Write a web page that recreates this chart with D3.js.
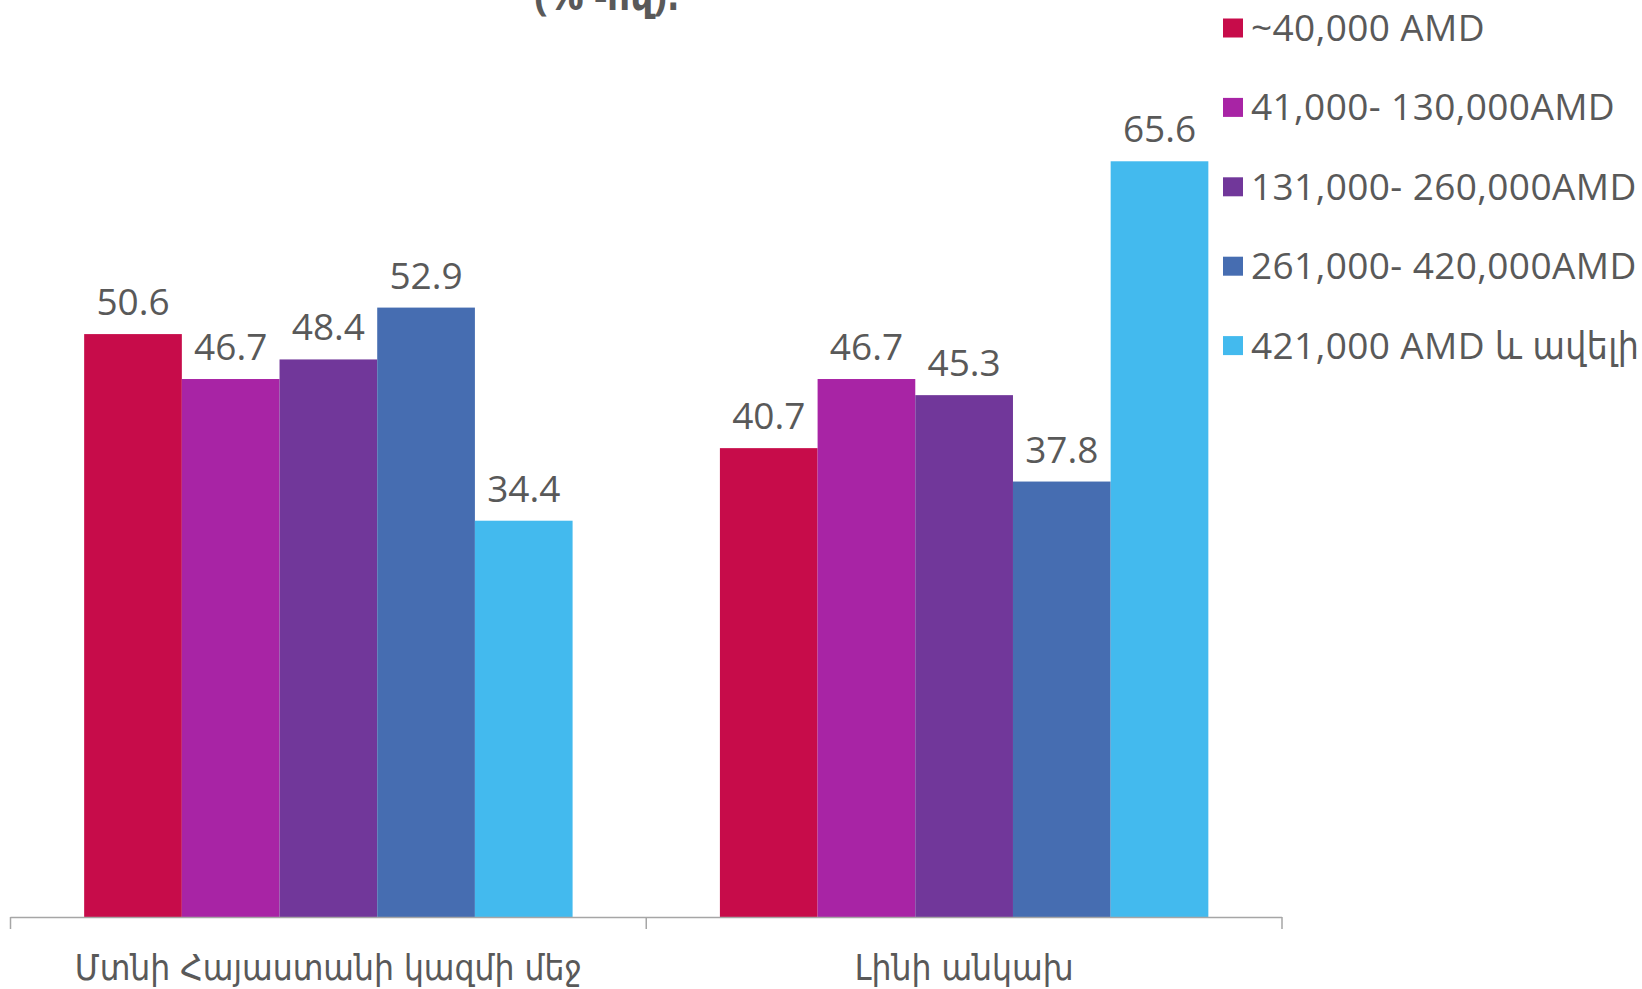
<!DOCTYPE html>
<html><head><meta charset="utf-8">
<script src="https://cdn.jsdelivr.net/npm/d3@7"></script>
<style>
html,body{margin:0;padding:0;background:#fff;}
svg{display:block;}
</style></head>
<body>
<svg id="chart" width="1642" height="989"></svg>
<script>
const categories = ["Մտնի Հայաստանի կազմի մեջ", "Լինի անկախ"];
const seriesNames = ["~40,000 AMD", "41,000- 130,000AMD", "131,000- 260,000AMD", "261,000- 420,000AMD", "421,000 AMD և ավելի"];
const seriesColors = ["#C70C4A", "#A824A5", "#71379A", "#466DB1", "#43BAEE"];
const values0 = [50.6, 46.7, 48.4, 52.9, 34.4];
const values1 = [40.7, 46.7, 45.3, 37.8, 65.6];
const seriesValues = [values0, values1];
const titleText = "(% -ով)։";

const svg = d3.select("#chart");
const textColor = "#595959";

const x0 = d3.scaleBand().domain(categories).range([10.5, 1282]).paddingInner(0).paddingOuter(0);
const x1 = d3.scaleBand().domain(seriesNames).range([0, x0.bandwidth()]).paddingInner(0).paddingOuter(0.754);
const y = d3.scaleLinear().domain([0, 70]).range([917, 110.6]);

// title (top cut off)
svg.append("text").attr("x", 607).attr("y", 10).attr("text-anchor", "middle")
  .attr("font-family", "Open Sans, DejaVu Sans Condensed, sans-serif").attr("font-weight", "bold")
  .attr("font-size", 40).attr("fill", textColor).text(titleText);

// bars
const groups = svg.append("g").selectAll("g").data(categories).join("g")
  .attr("transform", d => `translate(${x0(d)},0)`);
groups.each(function(cat, ci) {
  const g = d3.select(this);
  const vals = seriesValues[ci].map((v, si) => ({name: seriesNames[si], v, color: seriesColors[si]}));
  g.selectAll("rect").data(vals).join("rect")
    .attr("x", d => x1(d.name)).attr("width", x1.bandwidth())
    .attr("y", d => y(d.v)).attr("height", d => y(0) - y(d.v))
    .attr("fill", d => d.color);
  g.selectAll("text.val").data(vals).join("text").attr("class", "val")
    .attr("x", d => x1(d.name) + x1.bandwidth() / 2)
    .attr("y", d => y(d.v) - 19)
    .attr("text-anchor", "middle")
    .attr("font-family", "Open Sans, DejaVu Sans, sans-serif")
    .attr("font-size", 37).attr("fill", textColor)
    .text(d => d.v.toFixed(1));
});

// x axis
const axisG = svg.append("g");
axisG.append("line").attr("x1", x0.range()[0]).attr("x2", x0.range()[1])
  .attr("y1", y(0) + 0.5).attr("y2", y(0) + 0.5).attr("stroke", "#A6A6A6").attr("stroke-width", 1.5);
const tickPos = categories.map(c => x0(c)).concat([x0.range()[1]]);
axisG.selectAll("line.tick").data(tickPos).join("line").attr("class", "tick")
  .attr("x1", d => d).attr("x2", d => d).attr("y1", y(0)).attr("y2", y(0) + 12)
  .attr("stroke", "#A6A6A6").attr("stroke-width", 1.5);
axisG.selectAll("text").data(categories).join("text")
  .attr("x", d => x0(d) + x0.bandwidth() / 2).attr("y", 980)
  .attr("text-anchor", "middle")
  .attr("font-family", "DejaVu Sans Condensed, DejaVu Sans, sans-serif")
  .attr("font-size", 35).attr("fill", textColor).text(d => d);

// legend
const leg = svg.append("g").attr("transform", "translate(1223,0)");
const legItems = leg.selectAll("g").data(seriesNames).join("g")
  .attr("transform", (d, i) => `translate(0,${28 + i * 79.4})`);
legItems.append("rect").attr("x", 0).attr("y", -9.5).attr("width", 20).attr("height", 19)
  .attr("fill", (d, i) => seriesColors[i]);
legItems.append("text").attr("x", 28).attr("y", 13)
  .attr("font-family", "Open Sans, DejaVu Sans Condensed, sans-serif")
  .attr("font-size", 37).attr("letter-spacing", 0.4).attr("fill", textColor).text(d => d);
</script>
</body></html>
